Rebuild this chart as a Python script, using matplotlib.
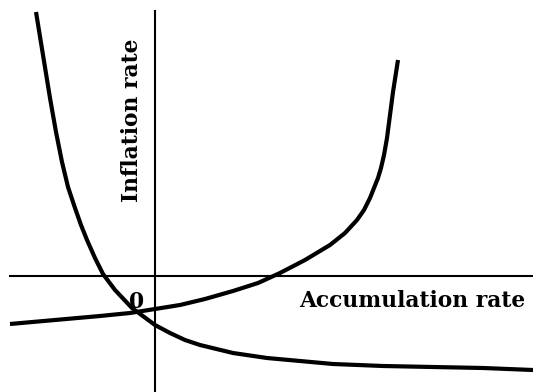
import numpy as np
import matplotlib.pyplot as plt

# curve points in pixels, shifted so the axes cross at 0,0
ox, oy = 155, 275.5
c1_px = [36, 43, 50, 56, 62, 68, 75, 81, 87, 95, 103, 115, 132, 155, 170, 185, 200,
         233, 267, 300, 333, 383, 433, 483, 533]
c1_py = [12, 55, 98, 132, 162, 187, 208, 225, 240, 258, 274, 290, 308, 325, 333, 340, 345,
         353, 358, 361, 364, 366, 367, 368, 370]
c2_px = [10, 55, 100, 130, 155, 180, 205, 233, 258, 280, 305, 330, 345, 357, 364, 370,
         374, 378, 381, 384, 387, 390, 393, 398]
c2_py = [324, 320, 316, 313, 309, 305, 299, 291, 283, 273, 260, 245, 233, 220, 210, 198,
         188, 178, 168, 155, 138, 115, 92, 60]

x1 = np.array(c1_px) - ox
y1 = oy - np.array(c1_py)
x2 = np.array(c2_px) - ox
y2 = oy - np.array(c2_py)

fig = plt.figure(figsize=(5.33, 3.92), dpi=100)
ax = fig.add_axes([0, 0, 1, 1])
ax.set_xlim(-ox, 533 - ox)
ax.set_ylim(oy - 392, oy)
ax.axis('off')

# axes lines
ax.plot([10 - ox, 533 - ox], [0, 0], color='black', lw=1.5)
ax.plot([0, 0], [oy - 392, oy - 11], color='black', lw=1.5)

ax.plot(x1, y1, color='black', lw=3, solid_capstyle='butt', solid_joinstyle='round')
ax.plot(x2, y2, color='black', lw=3, solid_capstyle='butt', solid_joinstyle='round')

font = dict(family='DejaVu Serif', fontweight='bold', fontsize=15.7)
ax.text(299 - ox, oy - 301, 'Accumulation rate', ha='left', va='center', **font)
ax.text(137 - ox, oy - 302, '0', ha='center', va='center', **font)
ax.text(132 - ox, oy - 120, 'Inflation rate', ha='center', va='center', rotation=90, **font)

fig.savefig('out.png', dpi=100)
